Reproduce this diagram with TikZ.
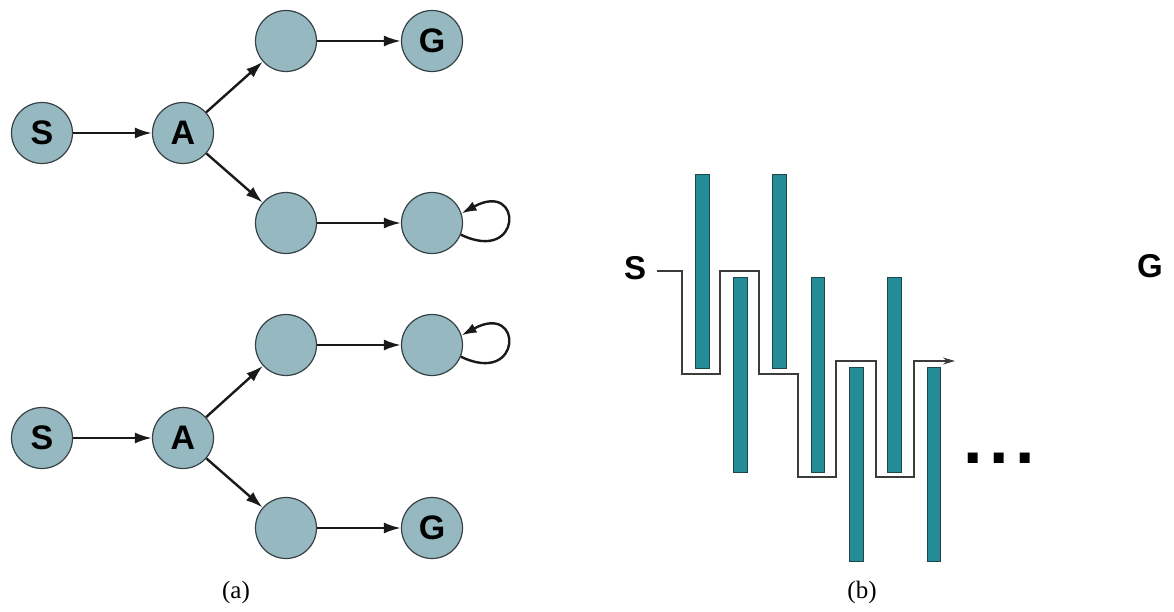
\documentclass[tikz,border=0pt]{standalone}
\usepackage{fontspec}
\setmainfont{Liberation Serif}
\setsansfont{Liberation Sans}
\usetikzlibrary{arrows.meta}
\definecolor{nodefill}{RGB}{150,184,192}
\definecolor{nodeline}{RGB}{55,65,70}
\definecolor{barfill}{RGB}{36,140,150}
\definecolor{barline}{RGB}{30,70,75}
\definecolor{pathcol}{RGB}{60,60,60}
\begin{document}
\begin{tikzpicture}[x=1pt,y=-1pt,
  st/.style={circle,draw=nodeline,fill=nodefill,line width=1.2pt,minimum size=61pt,inner sep=0pt,
    font=\sffamily\bfseries\fontsize{34}{40}\selectfont},
  edge/.style={line width=2.4pt,draw=black!90,-{Latex[length=17pt,width=11pt]}},
  loopedge/.style={line width=2.4pt,draw=black!90,-{Latex[length=15pt,width=10pt]}},
  bar/.style={fill=barfill,draw=barline,line width=0.8pt},
  lab/.style={font=\sffamily\bfseries\fontsize{33}{38}\selectfont,inner sep=0pt},
  captext/.style={font=\fontsize{25}{28}\selectfont,inner sep=0pt},
  route/.style={draw=pathcol,line width=1.4pt,line join=miter,-{Stealth[length=12pt,width=7pt]}}
]
\useasboundingbox (0,0) rectangle (1174,612);

% ---- (a) top graph
\node[st] (S1) at (42,133) {S};
\node[st] (A1) at (183,133) {A};
\node[st] (U1) at (286,41) {};
\node[st] (G1) at (432,41) {G};
\node[st] (L1) at (286,223) {};
\node[st] (P1) at (432,223) {};
\draw[edge] (S1) -- (A1);
\draw[edge] (A1) -- (U1);
\draw[edge] (A1) -- (L1);
\draw[edge] (U1) -- (G1);
\draw[edge] (L1) -- (P1);
\draw[loopedge] (P1.-22) .. controls +(62,30) and +(62,-34) .. (P1.18);

% ---- (a) bottom graph
\node[st] (S2) at (42,438) {S};
\node[st] (A2) at (183,438) {A};
\node[st] (U2) at (286,345) {};
\node[st] (P2) at (432,345) {};
\node[st] (L2) at (286,528) {};
\node[st] (G2) at (432,528) {G};
\draw[edge] (S2) -- (A2);
\draw[edge] (A2) -- (U2);
\draw[edge] (A2) -- (L2);
\draw[edge] (U2) -- (P2);
\draw[edge] (L2) -- (G2);
\draw[loopedge] (P2.-22) .. controls +(62,30) and +(62,-34) .. (P2.18);

\node[captext] (capa) at (236,592) {(a)};

% ---- (b)
\node[lab] (Sb) at (635,268) {S};
\node[lab] (Gb) at (1150,266) {G};

\path[bar] (695,174) rectangle (709,368);
\path[bar] (733,277) rectangle (747,472);
\path[bar] (772,174) rectangle (786,368);
\path[bar] (811,277) rectangle (824,472);
\path[bar] (849,367) rectangle (863,561);
\path[bar] (887,277) rectangle (901,472);
\path[bar] (927,367) rectangle (940,561);

\coordinate (start) at (657,271);
\coordinate (finish) at (955,361);
\draw[route] (start) -- (682,271) -- (682,374) -- (720,374) -- (720,271) -- (759,271)
  -- (759,374) -- (798,374) -- (798,477) -- (836,477) -- (836,361) -- (876,361)
  -- (876,477) -- (914,477) -- (914,361) -- (finish);

\node[anchor=base west,inner sep=0pt,font=\sffamily\bfseries\fontsize{70}{70}\selectfont] (dots) at (963,463) {.\hspace{6.5pt}.\hspace{6.5pt}.};

\node[captext] (capb) at (862,592) {(b)};
\end{tikzpicture}
\end{document}
